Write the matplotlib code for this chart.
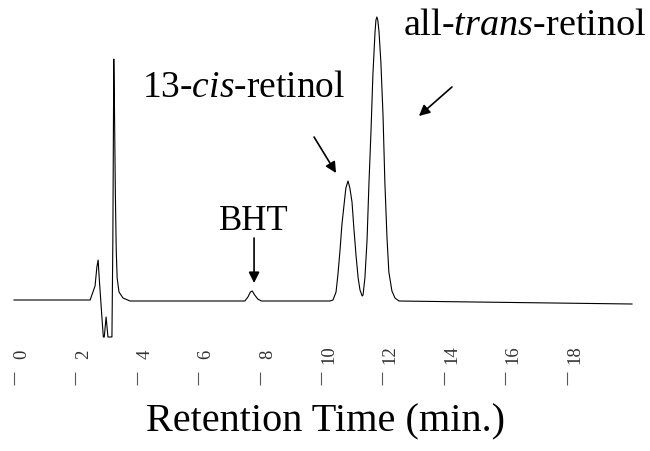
#
# HPLC chromatogram of retinol isomers
#
import matplotlib
matplotlib.use('Agg')
import matplotlib.pyplot as plt
import matplotlib.transforms as mtransforms

plt.rcParams['font.family'] = ['Liberation Serif', 'DejaVu Serif']
plt.rcParams['mathtext.fontset'] = 'custom'
plt.rcParams['mathtext.rm'] = 'Liberation Serif'
plt.rcParams['mathtext.it'] = 'Liberation Serif:italic'

#
# trace: retention time (min) and detector signal (arb.)
#
time_min = [0.0, 2.48, 2.64, 2.70, 2.74, 2.78, 2.87, 2.91, 2.94, 3.00, 3.06, 3.19,
            3.22, 3.25, 3.27, 3.30, 3.33, 3.36, 3.42, 3.55, 3.78,
            7.52, 7.62, 7.70, 7.76, 7.84, 7.94, 8.06, 10.29,
            10.39, 10.49, 10.55, 10.62, 10.68, 10.75, 10.81, 10.88, 10.94, 11.01,
            11.07, 11.14, 11.21, 11.27, 11.34, 11.37, 11.43, 11.50, 11.56, 11.63,
            11.69, 11.76, 11.79, 11.82, 11.85, 11.89, 11.95, 12.02, 12.08, 12.15,
            12.21, 12.31, 12.41, 12.54, 15.0, 20.13]
signal = [0, 0, 14, 33, 40, 20, -20, -37, -37, -17, -37, -37,
          60, 241, 200, 110, 50, 22, 8, 2, -1,
          -1, 3, 8, 9, 5, 1, -1, -1,
          0, 8, 25, 50, 75, 95, 112, 119, 112, 98,
          72, 45, 22, 10, 4, 5, 22, 60, 115, 170,
          225, 268, 280, 283, 280, 268, 238, 185, 118, 62,
          28, 9, 2, -1, -2, -4]

tick_values = [0, 2, 4, 6, 8, 10, 12, 14, 16, 18]

# arrow tips (time, signal) for the labelled peaks
bht_peak = (7.82, 17)
cis_peak = (10.49, 127)
trans_peak = (13.19, 184)

fig = plt.figure(figsize=(6.5, 4.51), dpi=100)
ax = fig.add_axes([0, 66 / 451, 1, 385 / 451])
ax.plot(time_min, signal, color='black', lw=0.8)
ax.set_xlim(-14 / 30.7, 636 / 30.7)
ax.set_ylim(-85, 300)

for s in ax.spines.values():
    s.set_visible(False)
ax.set_yticks([])
ax.set_xticks(tick_values)
ax.tick_params(axis='x', direction='in', length=9.5, width=0.8, color='0.35', labelbottom=False)

# tick labels sit above the tick marks, turned on their side
trans = mtransforms.blended_transform_factory(ax.transData, ax.transAxes)
trans = trans + mtransforms.ScaledTranslation(8 / 100, 0, fig.dpi_scale_trans)
for t in tick_values:
    ax.text(t, 0.08, str(t), transform=trans, rotation=90, ha='center', va='center',
            fontsize=13.5, color='0.2')

fig.text(0.5, 1 - 422 / 451, 'Retention Time (min.)', ha='center', va='center', fontsize=29)

arrow = dict(arrowstyle='-|>', mutation_scale=16, lw=1.2, color='black', shrinkA=0, shrinkB=0)
ax.annotate('', xy=bht_peak, xytext=(0, 45), textcoords='offset pixels', arrowprops=arrow)
ax.annotate('', xy=cis_peak, xytext=(-22, 36), textcoords='offset pixels', arrowprops=arrow)
ax.annotate('', xy=trans_peak, xytext=(33, 29), textcoords='offset pixels', arrowprops=arrow)

fig.text(254 / 650, 1 - 230 / 451, 'BHT', ha='center', va='baseline', fontsize=25)
fig.text(142 / 650, 1 - 97 / 451, r'13-$\it{cis}$-retinol', ha='left', va='baseline', fontsize=27)
fig.text(403 / 650, 1 - 35 / 451, r'all-$\it{trans}$-retinol', ha='left', va='baseline', fontsize=27.5)

plt.savefig('out.png', dpi=100)
plt.close()
